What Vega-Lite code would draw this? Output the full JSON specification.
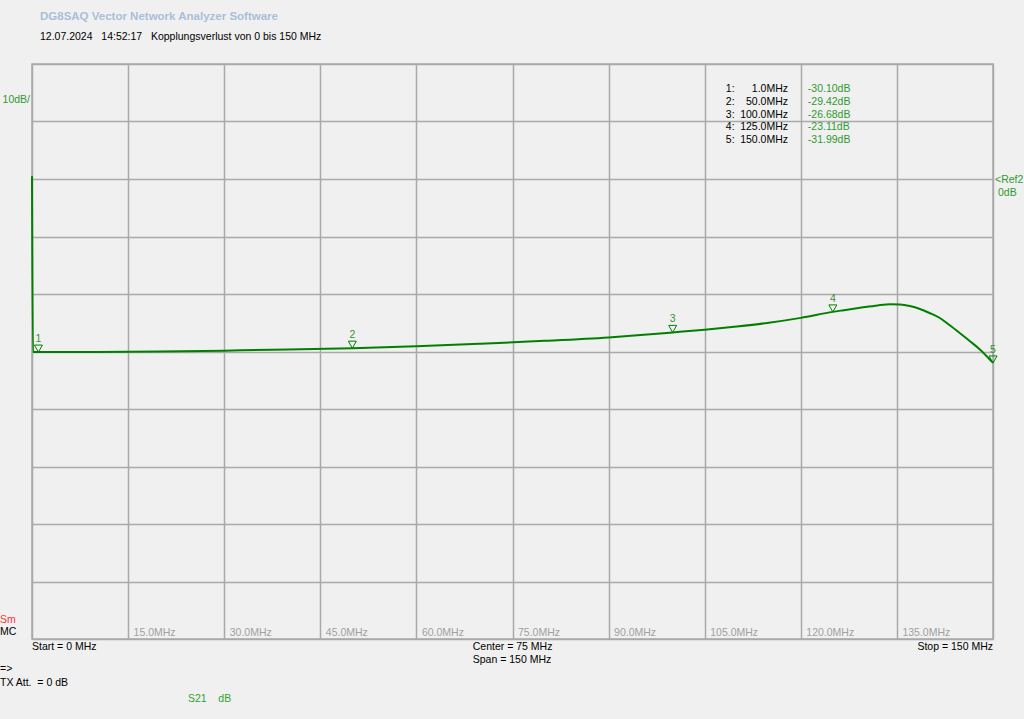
{
  "$schema": "https://vega.github.io/schema/vega-lite/v6.json",
  "width": 961,
  "height": 575,
  "autosize": {"type": "none"},
  "padding": {"left": 32, "top": 64, "right": 31, "bottom": 80},
  "background": "#f0f0f0",
  "config": {
    "view": {"stroke": "#a9a9a9", "strokeWidth": 1.5},
    "font": "Liberation Sans",
    "text": {"font": "Liberation Sans", "fontSize": 10.5}
  },
  "title": {
    "text": "DG8SAQ Vector Network Analyzer Software",
    "subtitle": "12.07.2024\u00a0\u00a0\u00a014:52:17\u00a0\u00a0\u00a0Kopplungsverlust von 0 bis 150 MHz",
    "anchor": "start",
    "frame": "group",
    "dx": 8,
    "offset": 22,
    "font": "Liberation Sans",
    "fontSize": 11.5,
    "fontWeight": "bold",
    "color": "#a9bfd9",
    "subtitleFont": "Liberation Sans",
    "subtitleFontSize": 10.5,
    "subtitleColor": "#000000",
    "subtitlePadding": 9
  },
  "datasets": {
    "trace": [
      {"f": 0, "db": 0.5},
      {"f": 0.15, "db": -30.1},
      {"f": 1, "db": -30.1},
      {"f": 10, "db": -30.08},
      {"f": 20, "db": -30.02},
      {"f": 30, "db": -29.85},
      {"f": 40, "db": -29.65},
      {"f": 50, "db": -29.42},
      {"f": 60, "db": -29.1},
      {"f": 70, "db": -28.65},
      {"f": 80, "db": -28.15},
      {"f": 90, "db": -27.55},
      {"f": 95, "db": -27.15},
      {"f": 100, "db": -26.68},
      {"f": 105, "db": -26.2},
      {"f": 110, "db": -25.65},
      {"f": 115, "db": -25.0},
      {"f": 120, "db": -24.15},
      {"f": 125, "db": -23.11},
      {"f": 126.5, "db": -22.85},
      {"f": 129.5, "db": -22.35},
      {"f": 132, "db": -21.98},
      {"f": 134, "db": -21.8},
      {"f": 135.5, "db": -21.84},
      {"f": 137, "db": -22.1},
      {"f": 138.6, "db": -22.6},
      {"f": 140.1, "db": -23.3},
      {"f": 141.7, "db": -24.17},
      {"f": 143.2, "db": -25.4},
      {"f": 144.8, "db": -26.78},
      {"f": 146.4, "db": -28.2},
      {"f": 148, "db": -29.69},
      {"f": 150, "db": -31.99}
    ],
    "markers": [
      {"n": 1, "f": 1, "db": -30.10, "idx": "1:", "freqLabel": "1.0MHz", "dbLabel": "-30.10dB"},
      {"n": 2, "f": 50, "db": -29.42, "idx": "2:", "freqLabel": "50.0MHz", "dbLabel": "-29.42dB"},
      {"n": 3, "f": 100, "db": -26.68, "idx": "3:", "freqLabel": "100.0MHz", "dbLabel": "-26.68dB"},
      {"n": 4, "f": 125, "db": -23.11, "idx": "4:", "freqLabel": "125.0MHz", "dbLabel": "-23.11dB"},
      {"n": 5, "f": 150, "db": -31.99, "idx": "5:", "freqLabel": "150.0MHz", "dbLabel": "-31.99dB"}
    ]
  },
  "resolve": {"scale": {"y": "independent"}},
  "layer": [
    {
      "layer": [
        {
          "data": {"name": "trace"},
          "mark": {"type": "line", "color": "#008000", "strokeWidth": 2, "interpolate": "monotone"},
          "encoding": {
            "x": {
              "field": "f", "type": "quantitative",
              "scale": {"domain": [0, 150], "nice": false, "zero": false},
              "axis": {
                "title": null,
                "values": [0, 15, 30, 45, 60, 75, 90, 105, 120, 135, 150],
                "grid": true, "gridColor": "#a9a9a9", "gridWidth": 1.5,
                "domain": false, "ticks": false, "tickSize": 0,
                "labelExpr": "datum.value == 0 || datum.value == 150 ? '' : format(datum.value, '.1f') + 'MHz'",
                "labelAlign": "left", "labelBaseline": "bottom",
                "labelPadding": -2, "labelOffset": 5,
                "labelColor": "#a0a0a0", "labelFont": "Liberation Sans", "labelFontSize": 10.5,
                "labelBound": false, "labelFlush": false, "labelOverlap": false
              }
            },
            "y": {
              "field": "db", "type": "quantitative",
              "scale": {"domain": [-80, 20], "nice": false, "zero": false},
              "axis": {
                "title": null,
                "values": [-80, -70, -60, -50, -40, -30, -20, -10, 0, 10, 20],
                "grid": true, "gridColor": "#a9a9a9", "gridWidth": 1.5,
                "labels": false, "ticks": false, "domain": false
              }
            }
          }
        },
        {
          "data": {"name": "markers"},
          "mark": {"type": "point", "shape": "M-1,-1.75L1,-1.75L0,0Z", "size": 64, "filled": false, "stroke": "#008000", "strokeWidth": 1, "opacity": 1},
          "encoding": {
            "x": {"field": "f", "type": "quantitative"},
            "y": {"field": "db", "type": "quantitative"}
          }
        },
        {
          "data": {"name": "markers"},
          "mark": {"type": "text", "fontSize": 10.5, "color": "#3a8f3a", "baseline": "alphabetic", "align": "center", "dy": -10},
          "encoding": {
            "x": {"field": "f", "type": "quantitative"},
            "y": {"field": "db", "type": "quantitative"},
            "text": {"field": "n", "type": "nominal"}
          }
        },
        {
          "data": {"values": [{"t": "10dB/"}]},
          "mark": {"type": "text", "color": "#2f9a2f", "align": "right", "baseline": "middle", "dx": -2, "dy": 36},
          "encoding": {"x": {"datum": 0}, "y": {"datum": 20}, "text": {"field": "t", "type": "nominal"}}
        },
        {
          "data": {"values": [{"t": "<Ref2"}]},
          "mark": {"type": "text", "color": "#2f9a2f", "align": "left", "baseline": "middle", "dx": 2, "dy": 1},
          "encoding": {"x": {"datum": 150}, "y": {"datum": 0}, "text": {"field": "t", "type": "nominal"}}
        },
        {
          "data": {"values": [{"t": "0dB"}]},
          "mark": {"type": "text", "color": "#2f9a2f", "align": "left", "baseline": "middle", "dx": 5, "dy": 14},
          "encoding": {"x": {"datum": 150}, "y": {"datum": 0}, "text": {"field": "t", "type": "nominal"}}
        },
        {
          "data": {"values": [{"t": "Sm"}]},
          "mark": {"type": "text", "color": "#ff3333", "align": "left", "baseline": "middle", "dx": -32, "dy": -19},
          "encoding": {"x": {"datum": 0}, "y": {"datum": -80}, "text": {"field": "t", "type": "nominal"}}
        },
        {
          "data": {"values": [{"t": "MC"}]},
          "mark": {"type": "text", "color": "#000000", "align": "left", "baseline": "middle", "dx": -32, "dy": -7},
          "encoding": {"x": {"datum": 0}, "y": {"datum": -80}, "text": {"field": "t", "type": "nominal"}}
        },
        {
          "data": {"values": [{"t": "Start = 0 MHz"}]},
          "mark": {"type": "text", "color": "#000000", "align": "left", "baseline": "top", "dy": 3},
          "encoding": {"x": {"datum": 0}, "y": {"datum": -80}, "text": {"field": "t", "type": "nominal"}}
        },
        {
          "data": {"values": [{"t": "Center = 75 MHz\nSpan = 150 MHz"}]},
          "mark": {"type": "text", "color": "#000000", "align": "left", "baseline": "top", "dy": 3, "lineBreak": "\n", "lineHeight": 13},
          "encoding": {"x": {"datum": 68.8}, "y": {"datum": -80}, "text": {"field": "t", "type": "nominal"}}
        },
        {
          "data": {"values": [{"t": "Stop = 150 MHz"}]},
          "mark": {"type": "text", "color": "#000000", "align": "right", "baseline": "top", "dy": 3},
          "encoding": {"x": {"datum": 150}, "y": {"datum": -80}, "text": {"field": "t", "type": "nominal"}}
        },
        {
          "data": {"values": [{"t": "=>\nTX Att.\u00a0\u00a0= 0 dB"}]},
          "mark": {"type": "text", "color": "#000000", "align": "left", "baseline": "top", "dx": -32, "dy": 25, "lineBreak": "\n", "lineHeight": 14},
          "encoding": {"x": {"datum": 0}, "y": {"datum": -80}, "text": {"field": "t", "type": "nominal"}}
        },
        {
          "data": {"values": [{"t": "S21\u00a0\u00a0\u00a0\u00a0dB"}]},
          "mark": {"type": "text", "color": "#33a033", "align": "left", "baseline": "top", "dy": 55},
          "encoding": {"x": {"datum": 24.35}, "y": {"datum": -80}, "text": {"field": "t", "type": "nominal"}}
        }
      ]
    },
    {
      "data": {"name": "markers"},
      "encoding": {
        "y": {"field": "n", "type": "ordinal", "scale": {"type": "point", "range": [25, 76], "padding": 0}, "axis": null}
      },
      "layer": [
        {
          "mark": {"type": "text", "color": "#000000", "align": "left", "baseline": "middle"},
          "encoding": {"x": {"datum": 108.3}, "text": {"field": "idx", "type": "nominal"}}
        },
        {
          "mark": {"type": "text", "color": "#000000", "align": "right", "baseline": "middle"},
          "encoding": {"x": {"datum": 118.0}, "text": {"field": "freqLabel", "type": "nominal"}}
        },
        {
          "mark": {"type": "text", "color": "#2f9a2f", "align": "left", "baseline": "middle"},
          "encoding": {"x": {"datum": 121.1}, "text": {"field": "dbLabel", "type": "nominal"}}
        }
      ]
    }
  ]
}
